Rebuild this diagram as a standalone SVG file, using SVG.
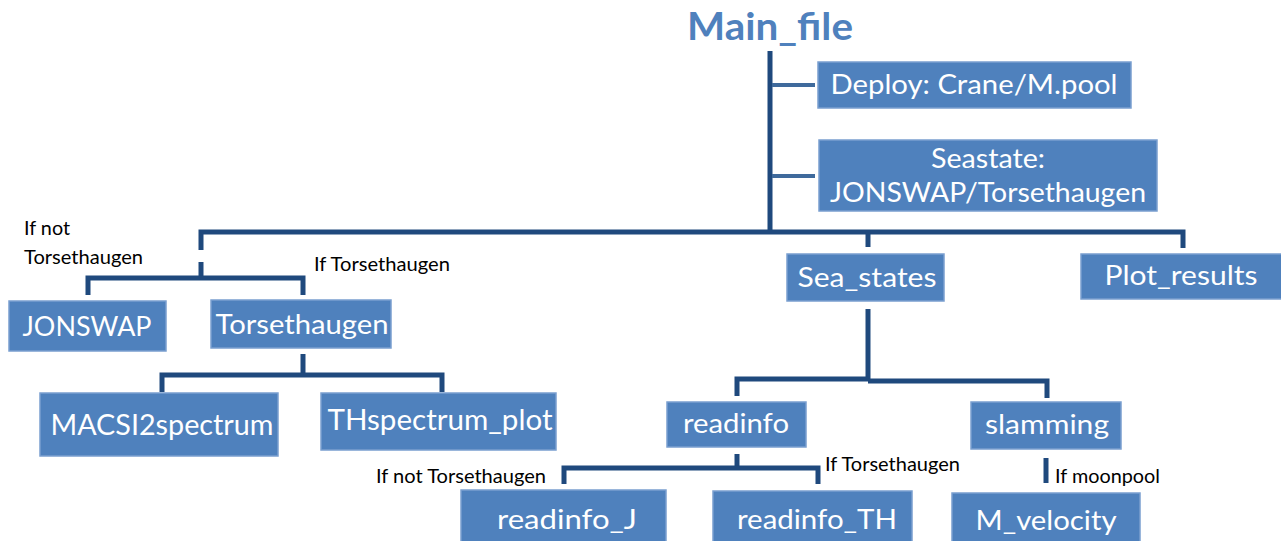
<svg xmlns="http://www.w3.org/2000/svg" width="1281" height="541" viewBox="0 0 1281 541">
  <style>
    .box { fill: #4F81BD; stroke: #7A9FCF; stroke-width: 1.5; }
    .lbl { fill: #FFFFFF; font-family: Lato, "Liberation Sans", sans-serif; text-anchor: middle; }
    .note { fill: #000000; font-family: Lato, "Liberation Sans", sans-serif; font-size: 19px; }
    .wire { fill: none; stroke: #1F497D; stroke-width: 5; }
    .stub { fill: none; stroke: #3F6A9C; stroke-width: 4; }
    .title { fill: #4F81BD; font-family: Lato, "Liberation Sans", sans-serif; font-weight: bold; font-size: 38px; text-anchor: middle; }
  </style>
  <rect width="1281" height="541" fill="#FFFFFF"/>

  <g id="connectors">
    <path class="wire" d="M770 51 V232"/>
    <path class="stub" d="M772 85 H815"/>
    <path class="stub" d="M772 176 H815"/>
    <path class="wire" d="M201 250 V232 H1183 V248"/>
    <path class="wire" d="M868 232 V247"/>
    <path class="wire" d="M201 262 V278"/>
    <path class="wire" d="M88 295 V278 H303 V295"/>
    <path class="wire" d="M303 354 V375"/>
    <path class="wire" d="M162 392 V375 H442 V392"/>
    <path class="wire" d="M868 309 V380"/>
    <path class="wire" d="M737 396 V379 H868"/>
    <path class="wire" d="M868 381 H1047 V398"/>
    <path class="wire" d="M737 454 V468"/>
    <path class="wire" d="M564 484 V468 H818 V484"/>
    <path class="wire" d="M1046 458 V483"/>
  </g>

  <g id="main_file">
    <text class="title" x="770" y="40" textLength="166" lengthAdjust="spacingAndGlyphs">Main_file</text>
  </g>
  <g id="deploy">
    <rect class="box" x="818" y="62" width="313" height="46"/>
    <text class="lbl" x="974" y="94" font-size="26" textLength="287" lengthAdjust="spacingAndGlyphs">Deploy: Crane/M.pool</text>
  </g>
  <g id="seastate">
    <rect class="box" x="819" y="140" width="338" height="71"/>
    <text class="lbl" x="988" y="168" font-size="26" textLength="114" lengthAdjust="spacingAndGlyphs">Seastate:</text>
    <text class="lbl" x="988" y="202" font-size="26" textLength="316" lengthAdjust="spacingAndGlyphs">JONSWAP/Torsethaugen</text>
  </g>
  <g id="sea_states">
    <rect class="box" x="787" y="254" width="157" height="47"/>
    <text class="lbl" x="867" y="287" font-size="27" textLength="139" lengthAdjust="spacingAndGlyphs">Sea_states</text>
  </g>
  <g id="plot_results">
    <rect class="box" x="1081" y="254" width="201" height="45"/>
    <text class="lbl" x="1181" y="285" font-size="27" textLength="153" lengthAdjust="spacingAndGlyphs">Plot_results</text>
  </g>
  <g id="jonswap">
    <rect class="box" x="9" y="301" width="157" height="50"/>
    <text class="lbl" x="87" y="336" font-size="27" textLength="129" lengthAdjust="spacingAndGlyphs">JONSWAP</text>
  </g>
  <g id="torsethaugen">
    <rect class="box" x="211" y="300" width="180" height="48"/>
    <text class="lbl" x="302" y="334" font-size="27" textLength="173" lengthAdjust="spacingAndGlyphs">Torsethaugen</text>
  </g>
  <g id="macsi2spectrum">
    <rect class="box" x="40" y="393" width="238" height="63"/>
    <text class="lbl" x="162" y="435" font-size="29" textLength="223" lengthAdjust="spacingAndGlyphs">MACSI2spectrum</text>
  </g>
  <g id="thspectrum_plot">
    <rect class="box" x="321" y="393" width="235" height="57"/>
    <text class="lbl" x="440" y="430" font-size="29" textLength="225" lengthAdjust="spacingAndGlyphs">THspectrum_plot</text>
  </g>
  <g id="readinfo">
    <rect class="box" x="667" y="402" width="139" height="45"/>
    <text class="lbl" x="736" y="433" font-size="27" textLength="106" lengthAdjust="spacingAndGlyphs">readinfo</text>
  </g>
  <g id="slamming">
    <rect class="box" x="971" y="402" width="150" height="47"/>
    <text class="lbl" x="1047" y="434" font-size="27" textLength="124" lengthAdjust="spacingAndGlyphs">slamming</text>
  </g>
  <g id="readinfo_j">
    <rect class="box" x="461" y="490" width="205" height="55"/>
    <text class="lbl" x="567" y="529" font-size="27" textLength="140" lengthAdjust="spacingAndGlyphs">readinfo_J</text>
  </g>
  <g id="readinfo_th">
    <rect class="box" x="713" y="491" width="199" height="54"/>
    <text class="lbl" x="817" y="529" font-size="27" textLength="160" lengthAdjust="spacingAndGlyphs">readinfo_TH</text>
  </g>
  <g id="m_velocity">
    <rect class="box" x="952" y="493" width="188" height="52"/>
    <text class="lbl" x="1046" y="530" font-size="27" textLength="141" lengthAdjust="spacingAndGlyphs">M_velocity</text>
  </g>

  <g id="notes">
    <text class="note" x="24" y="235" textLength="46" lengthAdjust="spacingAndGlyphs">If not</text>
    <text class="note" x="24" y="264" textLength="119" lengthAdjust="spacingAndGlyphs">Torsethaugen</text>
    <text class="note" x="314" y="271" textLength="136" lengthAdjust="spacingAndGlyphs">If Torsethaugen</text>
    <text class="note" x="376" y="483" textLength="170" lengthAdjust="spacingAndGlyphs">If not Torsethaugen</text>
    <text class="note" x="825" y="471" textLength="135" lengthAdjust="spacingAndGlyphs">If Torsethaugen</text>
    <text class="note" x="1055" y="483" textLength="105" lengthAdjust="spacingAndGlyphs">If moonpool</text>
  </g>
</svg>
